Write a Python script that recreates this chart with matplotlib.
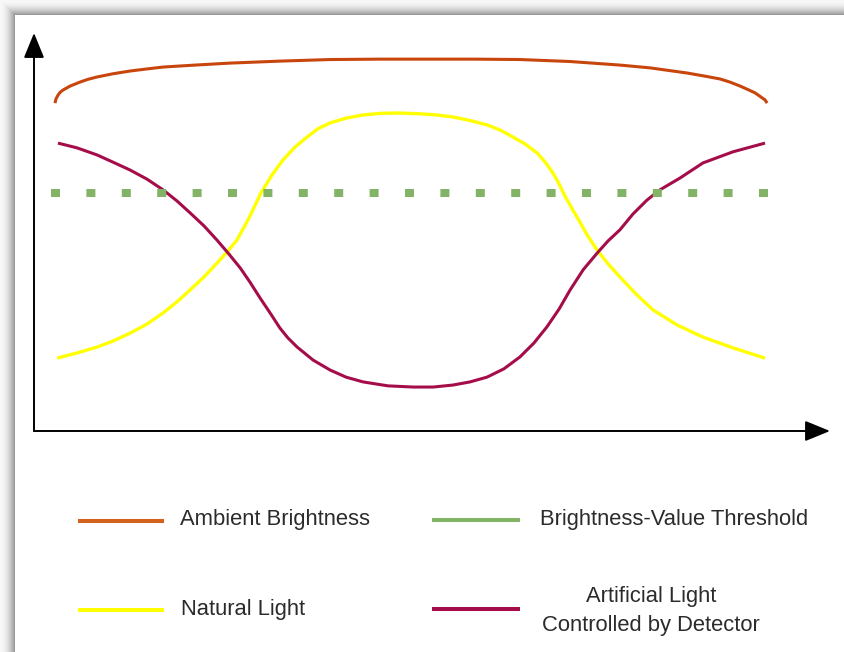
import numpy as np
import matplotlib
matplotlib.use("Agg")
import matplotlib.pyplot as plt
from matplotlib.lines import Line2D

plt.rcParams["font.family"] = ["Liberation Sans", "DejaVu Sans"]

# hours of the day (x) and brightness in % (y)
ambient_hours = [0.00, 0.03, 0.10, 0.17, 0.27, 0.51, 0.84, 1.11, 1.42, 1.95,
                 2.53, 3.07, 3.64, 4.72, 5.90, 7.58, 9.27, 10.95, 12.64, 14.16,
                 15.67, 17.36, 19.04, 20.05, 21.30, 21.91, 22.41, 22.75, 23.09,
                 23.36, 23.59, 23.80, 23.93, 24.00]
ambient_level = [82.8, 83.8, 84.8, 85.5, 86.1, 87.1, 88.1, 88.8, 89.4, 90.2,
                 90.9, 91.4, 91.9, 92.4, 92.9, 93.4, 93.8, 93.9, 93.9, 93.9,
                 93.8, 93.3, 92.4, 91.7, 90.4, 89.6, 88.9, 88.1, 87.1,
                 86.2, 85.4, 84.3, 83.6, 82.8]

natural_hours = [0.07, 0.74, 1.42, 1.95, 2.53, 3.10, 3.64, 4.11, 4.55, 5.02,
                 5.46, 5.80, 6.13, 6.54, 6.94, 7.31, 7.68, 8.09, 8.49, 8.86,
                 9.27, 9.81, 10.38, 10.95, 11.53, 12.30, 12.87, 13.41, 13.99,
                 14.56, 15.00, 15.44, 15.84, 16.25, 16.52, 16.78, 16.99, 17.19,
                 17.43, 17.69, 17.96, 18.27, 18.64, 19.04, 19.58, 20.15, 20.96,
                 21.84, 22.85, 23.93]
natural_level = [18.4, 19.7, 21.2, 22.7, 24.7, 27.0, 29.8, 32.6, 35.6, 38.9,
                 42.4, 45.2, 48.2, 53.8, 60.1, 64.6, 68.4, 71.7, 74.2, 76.3,
                 77.8, 79.0, 79.8, 80.2, 80.3, 80.1, 79.8, 79.3, 78.4,
                 77.3, 76.0, 74.2, 72.5, 70.2, 67.9, 65.2, 62.4, 59.3,
                 56.1, 52.8, 49.2, 45.7, 42.2, 38.9, 34.6, 30.6, 26.8,
                 23.7, 21.0, 18.4]

artificial_hours = [0.10, 0.74, 1.42, 1.95, 2.53, 3.10, 3.64, 4.11, 4.55, 5.02,
                    5.46, 5.86, 6.24, 6.57, 6.91, 7.25, 7.58, 7.85, 8.16, 8.70,
                    9.27, 9.81, 10.38, 11.22, 12.07, 12.74, 13.41, 13.99, 14.56,
                    15.13, 15.67, 16.14, 16.58, 16.99, 17.36, 17.80, 18.27,
                    18.64, 19.04, 19.48, 19.95, 20.39, 21.07, 21.84, 22.85, 23.93]
artificial_level = [72.7, 71.5, 69.7, 67.9, 65.9, 63.6, 60.9, 58.1, 55.1, 51.8,
                    48.2, 44.7, 41.2, 37.6, 33.6, 29.8, 26.0, 23.5, 21.2, 17.9,
                    15.4, 13.6, 12.4, 11.4, 11.1, 11.1, 11.6, 12.4, 13.6,
                    15.7, 18.7, 22.2, 26.3, 30.8, 35.6, 40.7, 44.9,
                    48.0, 50.8, 54.8, 58.3, 60.9, 63.9, 67.7, 70.5, 72.7]

threshold_hours = [0.0, 24.0]
threshold_level = 60.1

labels = ["Ambient Brightness", "Brightness-Value Threshold",
          "Natural Light", "Artificial Light\nControlled by Detector"]

c_ambient = "#C8450C"
c_ambient_leg = "#D5621C"
c_natural = "#FFFF00"
c_artificial = "#A50D4A"
c_threshold = "#82B366"
c_text = "#2B2B2B"

W, H = 844, 652
fig = plt.figure(figsize=(W / 100, H / 100), dpi=100)

# background with the window shadow on top and left
bg = fig.add_axes([0, 0, 1, 1])
bg.set_xlim(0, W)
bg.set_ylim(H, 0)
bg.axis("off")
xx, yy = np.meshgrid(np.arange(W), np.arange(H))
tx = np.clip(xx / 15.0, 0, 1)
ty = np.clip(yy / 15.0, 0, 1)
shade = np.ones((H, W))
inside = (xx >= 15) & (yy >= 15)
t = np.minimum(tx, ty)
shade[~inside] = 0.97 - 0.42 * t[~inside] ** 2
bg.imshow(shade, cmap="gray", vmin=0, vmax=1, extent=[0, W, H, 0], aspect="auto")

# main chart area
ax = fig.add_axes([34 / W, (H - 431) / H, (830 - 34) / W, (431 - 33) / H])
ax.set_xlim(-0.708, 26.12)
ax.set_ylim(0, 100.5)
ax.patch.set_alpha(0)
for s in ax.spines.values():
    s.set_visible(False)
ax.set_xticks([])
ax.set_yticks([])

style = dict(solid_capstyle="butt", solid_joinstyle="round")
ax.plot(ambient_hours, ambient_level, color=c_ambient, lw=2.2, **style)
ax.plot(natural_hours, natural_level, color=c_natural, lw=2.4, **style)
ax.plot(artificial_hours, artificial_level, color=c_artificial, lw=2.2, **style)
# dotted threshold: squares ~9px, period ~35.4px
pad = 4.5 / 29.67
ax.plot([threshold_hours[0] - pad, threshold_hours[1] + pad],
        [threshold_level, threshold_level], color=c_threshold, lw=5.76,
        dashes=(1.125, 3.3), solid_capstyle="butt", dash_capstyle="butt")

# axes arrows
arrow = dict(arrowstyle="-|>,head_length=1.1,head_width=0.45", color="black",
             lw=1.4, shrinkA=0, shrinkB=0, mutation_scale=14)
ax.annotate("", xy=(0, 1), xytext=(0, 0), xycoords="axes fraction", arrowprops=arrow)
ax.annotate("", xy=(1, 0), xytext=(0, 0), xycoords="axes fraction", arrowprops=arrow)

# legend drawn below the chart
fs = 15.8
leg_lines = [(78, 164, 521, c_ambient_leg), (432, 520, 520, c_threshold),
             (78, 164, 610, c_natural), (432, 520, 609, c_artificial)]
for x0, x1, y, c in leg_lines:
    bg.add_line(Line2D([x0, x1], [y, y], color=c, lw=2.9, solid_capstyle="butt"))

bg.text(180, 519, labels[0], fontsize=fs, color=c_text, va="center", ha="left")
bg.text(540, 519, labels[1], fontsize=fs, color=c_text, va="center", ha="left")
bg.text(181, 610, labels[2], fontsize=fs, color=c_text, va="center", ha="left")
bg.text(651, 611, labels[3], fontsize=fs, color=c_text, va="center", ha="center",
        multialignment="center", linespacing=1.45)

fig.savefig("out.png", dpi=100)
